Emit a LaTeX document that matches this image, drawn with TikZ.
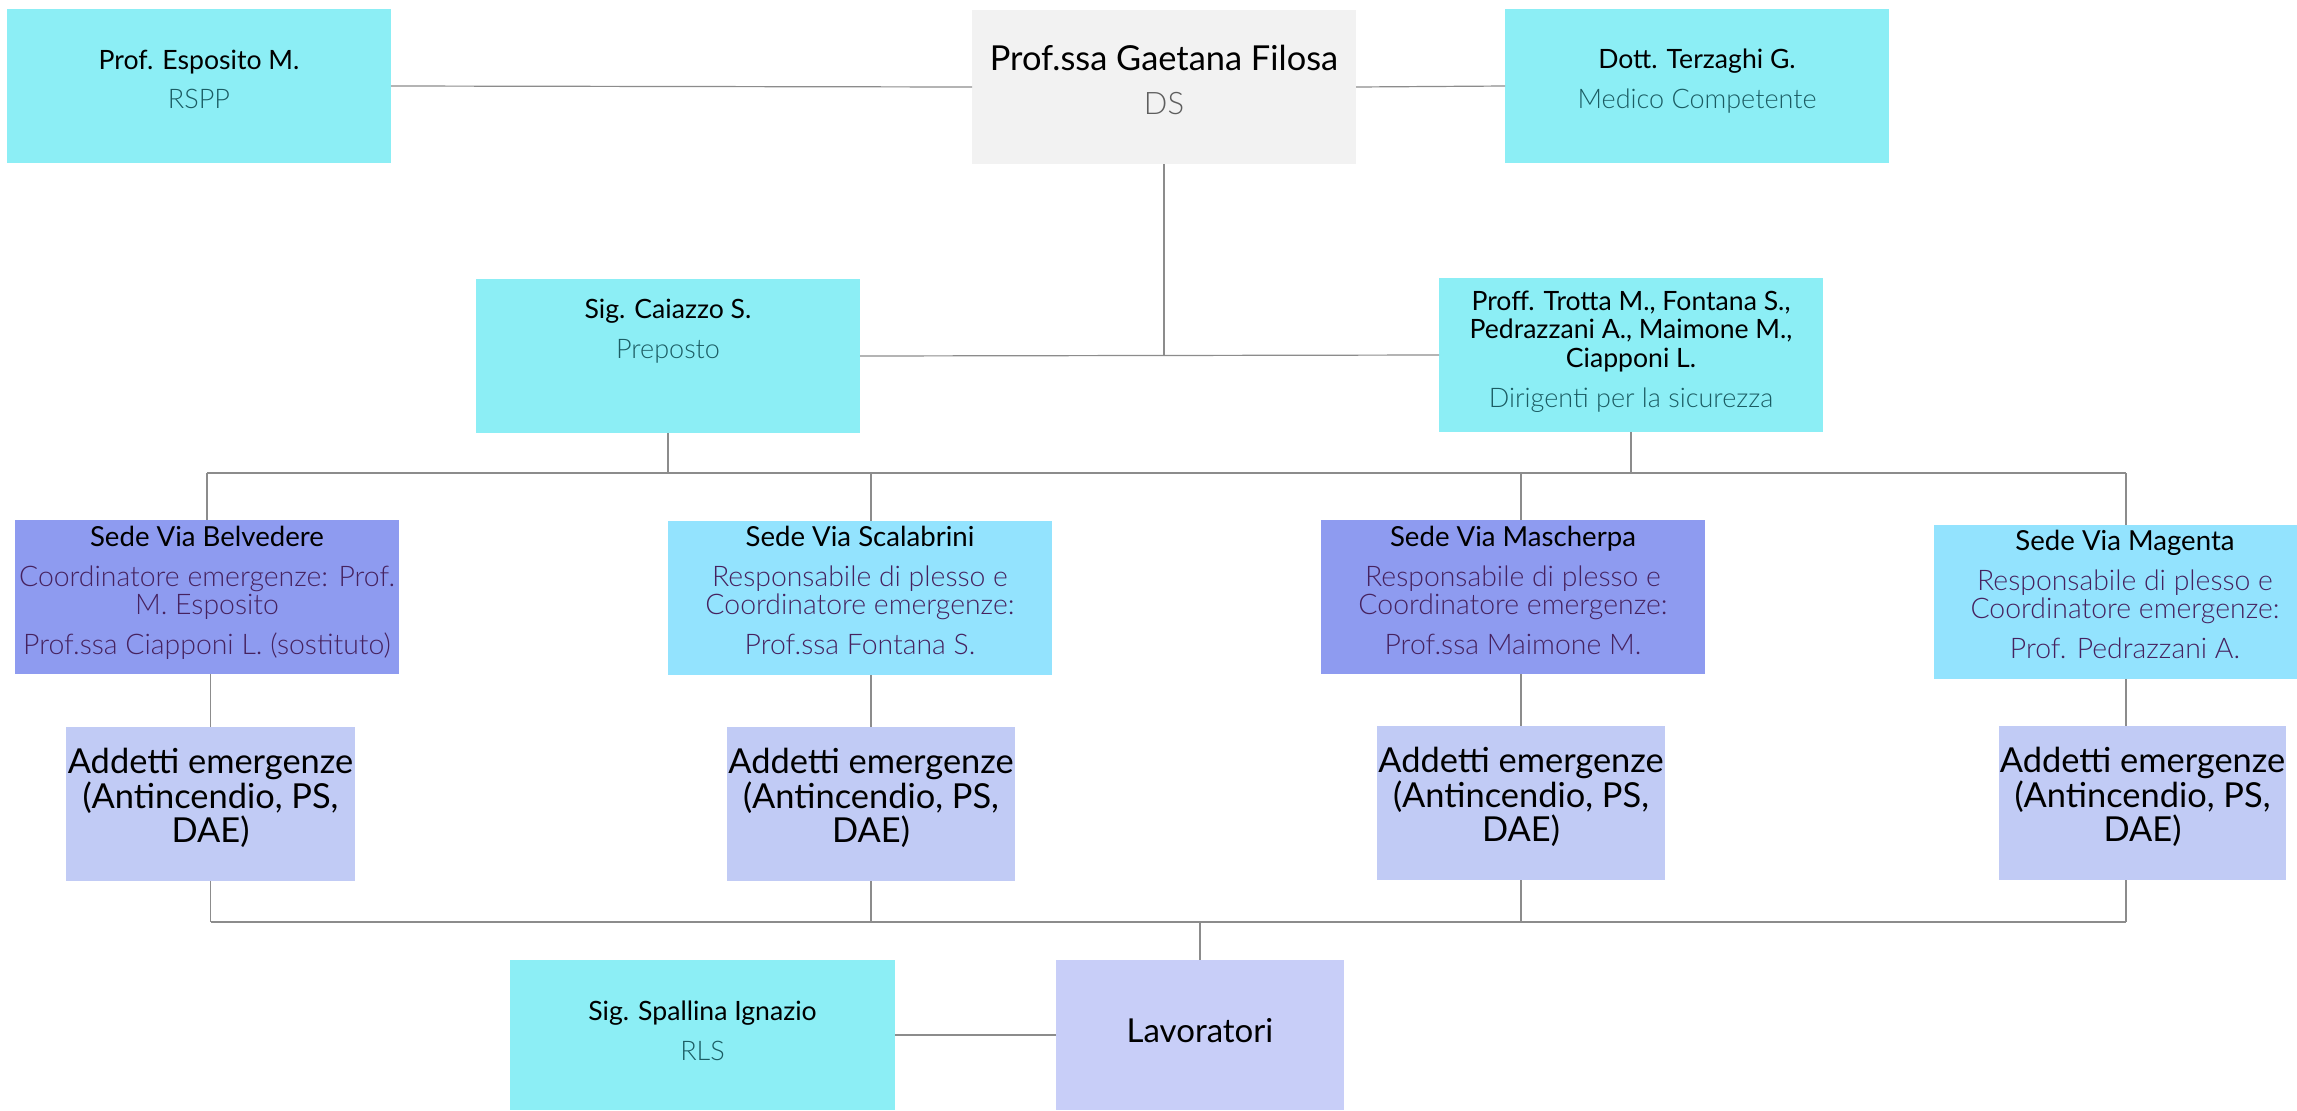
\documentclass[tikz,border=0pt]{standalone}
\usepackage{fontspec}
\setmainfont{Lato}
\newfontfamily\lightf{Lato Light}
\usetikzlibrary{fit}
\definecolor{cyanbox}{HTML}{8CEEF5}
\definecolor{greybox}{HTML}{F2F2F2}
\definecolor{bluebox}{HTML}{8E9BF0}
\definecolor{skybox}{HTML}{93E3FE}
\definecolor{addbox}{HTML}{C1CBF5}
\definecolor{lavbox}{HTML}{C8CEF8}
\definecolor{linegray}{HTML}{8C8C8C}
\definecolor{tealtext}{HTML}{1B5C63}
\definecolor{purpletext}{HTML}{46225F}
\definecolor{dsgray}{HTML}{5E5E5E}
\begin{document}
\begin{tikzpicture}[x=0.5pt,y=-0.5pt,
  box/.style={inner sep=0pt, outer sep=0pt, draw=none},
  conn/.style={draw=linegray, line width=0.6pt},
  nm/.style={anchor=base, inner sep=0pt, text=black, font=\fontsize{13.3}{15}\selectfont},
  hd/.style={anchor=base, inner sep=0pt, text=black, font=\fontsize{13.8}{15}\selectfont},
  sub/.style={anchor=base, inner sep=0pt, text=tealtext, font=\lightf\fontsize{13.5}{15}\selectfont},
  psub/.style={anchor=base, inner sep=0pt, text=purpletext, font=\lightf\fontsize{14.2}{15}\selectfont},
  big/.style={anchor=base, inner sep=0pt, text=black, font=\fontsize{17.2}{19}\selectfont}]
\useasboundingbox (0,0) rectangle (2297,1110);
\fill[white] (0,0) rectangle (2297,1110);

% boxes
\node[box, fill=cyanbox, fit={(7,9) (391,163)}] (esp) {};
\node[box, fill=greybox, fit={(972,10) (1356,164)}] (fil) {};
\node[box, fill=cyanbox, fit={(1505,9) (1889,163)}] (ter) {};
\node[box, fill=cyanbox, fit={(476,279) (860,433)}] (cai) {};
\node[box, fill=cyanbox, fit={(1439,278) (1823,432)}] (dir) {};
\node[box, fill=bluebox, fit={(15,520) (399,674)}] (bel) {};
\node[box, fill=skybox, fit={(668,521) (1052,675)}] (sca) {};
\node[box, fill=bluebox, fit={(1321,520) (1705,674)}] (mas) {};
\node[box, fill=skybox, fit={(1934,525) (2297,679)}] (mag) {};
\node[box, fill=addbox, fit={(66,727) (355,881)}] (add1) {};
\node[box, fill=addbox, fit={(727,727) (1015,881)}] (add2) {};
\node[box, fill=addbox, fit={(1377,726) (1665,880)}] (add3) {};
\node[box, fill=addbox, fit={(1999,726) (2286,880)}] (add4) {};
\node[box, fill=cyanbox, fit={(510,960) (895,1110)}] (spa) {};
\node[box, fill=lavbox, fit={(1056,960) (1344,1110)}] (lav) {};
\coordinate (magx) at (2126,600);
\coordinate (busA) at (0,473);
\coordinate (busB) at (0,922);

% connectors
\draw[conn] (esp.east) -- (fil.west);
\draw[conn] (fil.east) -- (ter.west);
\draw[conn] (fil.south) -- (fil.south |- cai.east);
\draw[conn] (cai.east) -- (dir.west);
\draw[conn] (cai.south) -- (cai.south |- busA);
\draw[conn] (dir.south) -- (dir.south |- busA);
\draw[conn] (bel.north |- busA) -- (magx |- busA);
\draw[conn] (bel.north |- busA) -- (bel.north);
\draw[conn] (add2.north |- busA) -- (add2.north |- sca.north);
\draw[conn] (add3.north |- busA) -- (add3.north |- mas.north);
\draw[conn] (magx |- busA) -- (magx |- mag.north);
\draw[conn] (add1.north |- bel.south) -- (add1.north);
\draw[conn] (add2.north |- sca.south) -- (add2.north);
\draw[conn] (add3.north |- mas.south) -- (add3.north);
\draw[conn] (magx |- mag.south) -- (magx |- add4.north);
\draw[conn] (add1.south) -- (add1.south |- busB);
\draw[conn] (add2.south) -- (add2.south |- busB);
\draw[conn] (add3.south) -- (add3.south |- busB);
\draw[conn] (magx |- add4.south) -- (magx |- busB);
\draw[conn] (add1.south |- busB) -- (magx |- busB);
\draw[conn] (lav.north |- busB) -- (lav.north);
\draw[conn] (spa.east) -- (lav.west);

% texts
\node[nm] (espN) at (199,69) {Prof. Esposito M.};
\node[sub] (espS) at (199,108) {RSPP};
\node[big] (filN) at (1164,70) {Prof.ssa Gaetana Filosa};
\node[anchor=base, inner sep=0pt, text=dsgray, font=\lightf\fontsize{15.5}{17}\selectfont] (filS) at (1164,114) {DS};
\node[nm] (terN) at (1697,68) {Dott. Terzaghi G.};
\node[sub] (terS) at (1697,108) {Medico Competente};
\node[nm] (caiN) at (668,318) {Sig. Caiazzo S.};
\node[sub] (caiS) at (668,358) {Preposto};
\node[nm] (dirN1) at (1631,310) {Proff. Trotta M., Fontana S.,};
\node[nm] (dirN2) at (1631,338) {Pedrazzani A., Maimone M.,};
\node[nm] (dirN3) at (1631,367) {Ciapponi L.};
\node[sub] (dirS) at (1631,407) {Dirigenti per la sicurezza};

\node[hd] (belN) at (207,546) {Sede Via Belvedere};
\node[psub] (belS1) at (207,586) {Coordinatore emergenze: Prof.};
\node[psub] (belS2) at (207,614) {M. Esposito};
\node[psub] (belS3) at (207,654) {Prof.ssa Ciapponi L. (sostituto)};

\node[hd] (scaN) at (860,546) {Sede Via Scalabrini};
\node[psub] (scaS1) at (860,586) {Responsabile di plesso e};
\node[psub] (scaS2) at (860,614) {Coordinatore emergenze:};
\node[psub] (scaS3) at (860,654) {Prof.ssa Fontana S.};

\node[hd] (masN) at (1513,546) {Sede Via Mascherpa};
\node[psub] (masS1) at (1513,586) {Responsabile di plesso e};
\node[psub] (masS2) at (1513,614) {Coordinatore emergenze:};
\node[psub] (masS3) at (1513,654) {Prof.ssa Maimone M.};

\node[hd] (magN) at (2125,550) {Sede Via Magenta};
\node[psub] (magS1) at (2125,590) {Responsabile di plesso e};
\node[psub] (magS2) at (2125,618) {Coordinatore emergenze:};
\node[psub] (magS3) at (2125,658) {Prof. Pedrazzani A.};

\node[big] (a1a) at (210.5,773) {Addetti emergenze};
\node[big] (a1b) at (210.5,808) {(Antincendio, PS,};
\node[big] (a1c) at (210.5,842) {DAE)};
\node[big] (a2a) at (871,773) {Addetti emergenze};
\node[big] (a2b) at (871,808) {(Antincendio, PS,};
\node[big] (a2c) at (871,842) {DAE)};
\node[big] (a3a) at (1521,772) {Addetti emergenze};
\node[big] (a3b) at (1521,807) {(Antincendio, PS,};
\node[big] (a3c) at (1521,841) {DAE)};
\node[big] (a4a) at (2142.5,772) {Addetti emergenze};
\node[big] (a4b) at (2142.5,807) {(Antincendio, PS,};
\node[big] (a4c) at (2142.5,841) {DAE)};

\node[nm] (spaN) at (702.5,1020) {Sig. Spallina Ignazio};
\node[sub] (spaS) at (702.5,1060) {RLS};
\node[anchor=base, inner sep=0pt, text=black, font=\fontsize{16.5}{18}\selectfont] (lavN) at (1200,1042) {Lavoratori};
\end{tikzpicture}
\end{document}
